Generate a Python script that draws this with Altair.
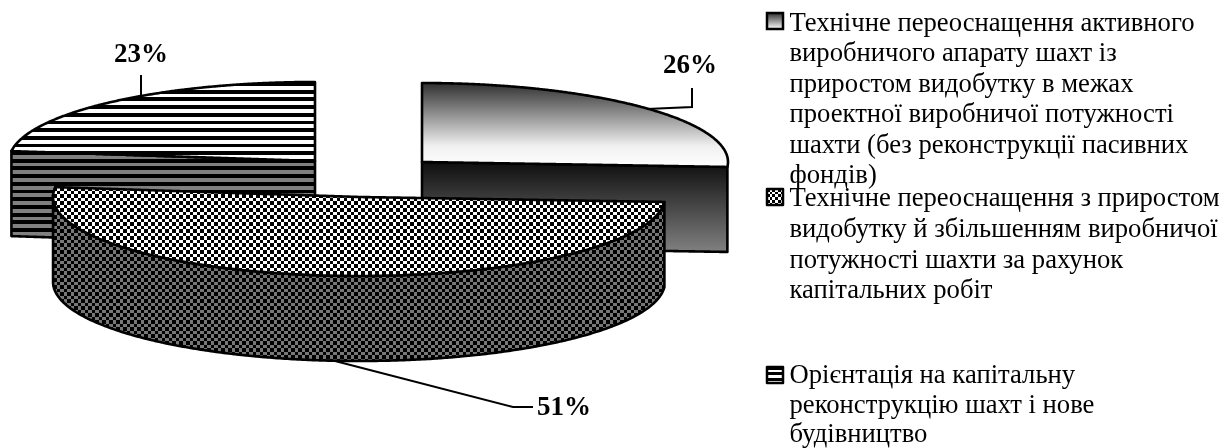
import math
import altair as alt
import pandas as pd

SHARES = [26, 51, 23]
LABELS = ["26%", "51%", "23%"]
LEGEND_LINES = [
    ["Технічне переоснащення активного", "виробничого апарату шахт із", "приростом видобутку в межах",
     "проектної виробничої потужності", "шахти (без реконструкції пасивних", "фондів)"],
    ["Технічне переоснащення з приростом", "видобутку й збільшенням виробничої",
     "потужності шахти за рахунок", "капітальних робіт"],
    ["Орієнтація на капітальну", "реконструкцію шахт і нове", "будівництво"],
]

W, H = 1214, 440
RX, RY, DROP = 306, 79, 85
CENTERS = [(422, 162), (359, 197), (315, 161)]
xs = alt.Scale(domain=[8, 8 + W], nice=False, zero=False)
ys = alt.Scale(domain=[8 + H, 8], nice=False, zero=False)


def angles():
    a = []
    cur = 0.0
    for s in SHARES:
        a.append((cur, cur + s * 3.6))
        cur += s * 3.6
    a[-1] = (a[-1][0], 360.0)
    return a


def ell(c, deg):
    t = math.radians(deg)
    return c[0] + RX * math.sin(t), c[1] - RY * math.cos(t)


def sector_poly(c, a0, a1):
    n = 90
    return [c] + [ell(c, a0 + (a1 - a0) * i / n) for i in range(n + 1)]


def scan(poly):
    xv = [p[0] for p in poly]
    lo, hi = min(xv), max(xv)
    grid = sorted(set([lo + 0.01 + (hi - lo - 0.02) * i / 240 for i in range(241)] +
                      [p[0] for p in poly if lo + 0.01 < p[0] < hi - 0.01]))
    rows = []
    for x in grid:
        hits = []
        for (x0, y0), (x1, y1) in zip(poly, poly[1:] + poly[:1]):
            if (x0 - x) * (x1 - x) <= 0 and x0 != x1:
                hits.append(y0 + (y1 - y0) * (x - x0) / (x1 - x0))
        if hits:
            rows.append({"x": x, "y": min(hits), "y2": max(hits)})
    return pd.DataFrame(rows)


def side_poly(c, a0, a1):
    pts = [ell(c, a0 + (a1 - a0) * i / 90) for i in range(91)]
    return pts + [(x, y + DROP) for x, y in reversed(pts)]


def area(df, **kw):
    return alt.Chart(df).mark_area(**kw).encode(
        x=alt.X("x:Q", scale=xs, axis=None),
        y=alt.Y("y:Q", scale=ys, axis=None),
        y2="y2:Q",
    )


def bands(span, period, a, b, vertical=False, phase=0.0):
    stops = [alt.GradientStop(offset=0, color=a)]
    p = phase
    half = period / 2
    on = True
    while p < span:
        col = a if on else b
        nxt = min(p + half, span)
        stops.append(alt.GradientStop(offset=max(p, 0) / span, color=col))
        stops.append(alt.GradientStop(offset=nxt / span, color=col))
        p = nxt
        on = not on
    kw = dict(x1=0, x2=1, y1=0, y2=0) if vertical else dict(x1=0, x2=0, y1=0, y2=1)
    return alt.Gradient(gradient="linear", stops=stops, **kw)


def smooth(stops_):
    return alt.Gradient(gradient="linear", x1=0, x2=0, y1=0, y2=1,
                        stops=[alt.GradientStop(offset=o, color=c) for o, c in stops_])


def outline(df, w=2.6):
    return area(df, fill="transparent", stroke="black", strokeWidth=w, strokeJoin="round")


def striped(df, a, period=7.7, b="black"):
    span = df.y2.max() - df.y.min()
    return [area(df, fill=bands(span, period, b, a)), outline(df)]


def checker(df, col, period=7.0):
    spany = df.y2.max() - df.y.min()
    spanx = df.x.max() - df.x.min()
    return [
        area(df, fill=bands(spany, period, col, "black")),
        area(df, fill=bands(spanx, period, col, "black", vertical=True), blend="difference"),
        outline(df),
    ]


ang = angles()
layers = []

# slice 1: gradient
c1 = CENTERS[0]
e1 = ell(c1, ang[0][1])
s1_top = scan(sector_poly(c1, *ang[0]))
s1_side = scan([c1, e1, (e1[0], e1[1] + DROP), (c1[0], c1[1] + DROP)])
layers += [area(s1_side, fill=smooth([(0, "#0e0e0e"), (1, "#808080")])), outline(s1_side)]
layers += [area(s1_top, fill=smooth([(0, "#303030"), (0.75, "#f0f0f0"), (1, "#ffffff")])), outline(s1_top)]

# slice 3 (23%): stripes
c3 = CENTERS[2]
e3 = ell(c3, ang[2][0])
s3_side = scan([e3, c3, (c3[0], c3[1] + DROP), (e3[0], e3[1] + DROP)])
s3_top = scan(sector_poly(c3, *ang[2]))
layers += striped(s3_side, "#808080")
layers += striped(s3_top, "white")

# slice 2 (51%): checks
c2 = CENTERS[1]
s2_side = scan(side_poly(c2, *ang[1]))
s2_top = scan(sector_poly(c2, *ang[1]))
layers += checker(s2_side, "#777777")
layers += checker(s2_top, "#ffffff")


# leaders
def poly_line(pts):
    df = pd.DataFrame({"x": [p[0] for p in pts], "y": [p[1] for p in pts], "o": range(len(pts))})
    return alt.Chart(df).mark_line(color="black", strokeWidth=2).encode(
        x=alt.X("x:Q", scale=xs, axis=None), y=alt.Y("y:Q", scale=ys, axis=None), order="o:Q")


layers += [poly_line([(141, 75), (141, 96)]),
           poly_line([(692, 88), (692, 107), (647, 109)]),
           poly_line([(335, 361), (513, 407), (533, 407)])]

lab = pd.DataFrame({"x": [690, 564, 141], "y": [65, 407, 54], "t": LABELS})
layers.append(alt.Chart(lab).mark_text(font="Liberation Serif", fontSize=27, fontWeight="bold", color="black",
                                       align="center", baseline="middle").encode(
    x=alt.X("x:Q", scale=xs, axis=None), y=alt.Y("y:Q", scale=ys, axis=None), text="t:N"))

# legend
LINE_Y = [[31, 61, 92, 122, 153, 183], [206, 237, 268, 298], [383, 413, 442]]
rows = []
for group, ypos in zip(LEGEND_LINES, LINE_Y):
    for t, y in zip(group, ypos):
        rows.append({"x": 789.5, "y": y, "t": t})
layers.append(alt.Chart(pd.DataFrame(rows)).mark_text(font="Liberation Serif", fontSize=26.67, color="black",
                                                      align="left", baseline="alphabetic").encode(
    x=alt.X("x:Q", scale=xs, axis=None), y=alt.Y("y:Q", scale=ys, axis=None), text="t:N"))


def box(y0):
    return pd.DataFrame({"x": [767, 783], "y": [y0, y0], "y2": [y0 + 16, y0 + 16]})


layers += [area(box(13), fill=smooth([(0, "#303030"), (1, "#ffffff")]), stroke="black", strokeWidth=2.5)]
b2 = box(189)
layers += [area(b2, fill=bands(16, 5.4, "white", "black")),
           area(b2, fill=bands(16, 5.4, "white", "black", vertical=True), blend="difference"),
           outline(b2, 2.5)]
layers += [area(box(367), fill=bands(16, 5.4, "black", "white")), outline(box(367), 2.5)]

chart = alt.layer(*layers).properties(width=W, height=H, padding=0, autosize="none", background="white").configure_view(stroke=None)
chart.save("out.html", embed_options={"renderer": "svg", "actions": False})
